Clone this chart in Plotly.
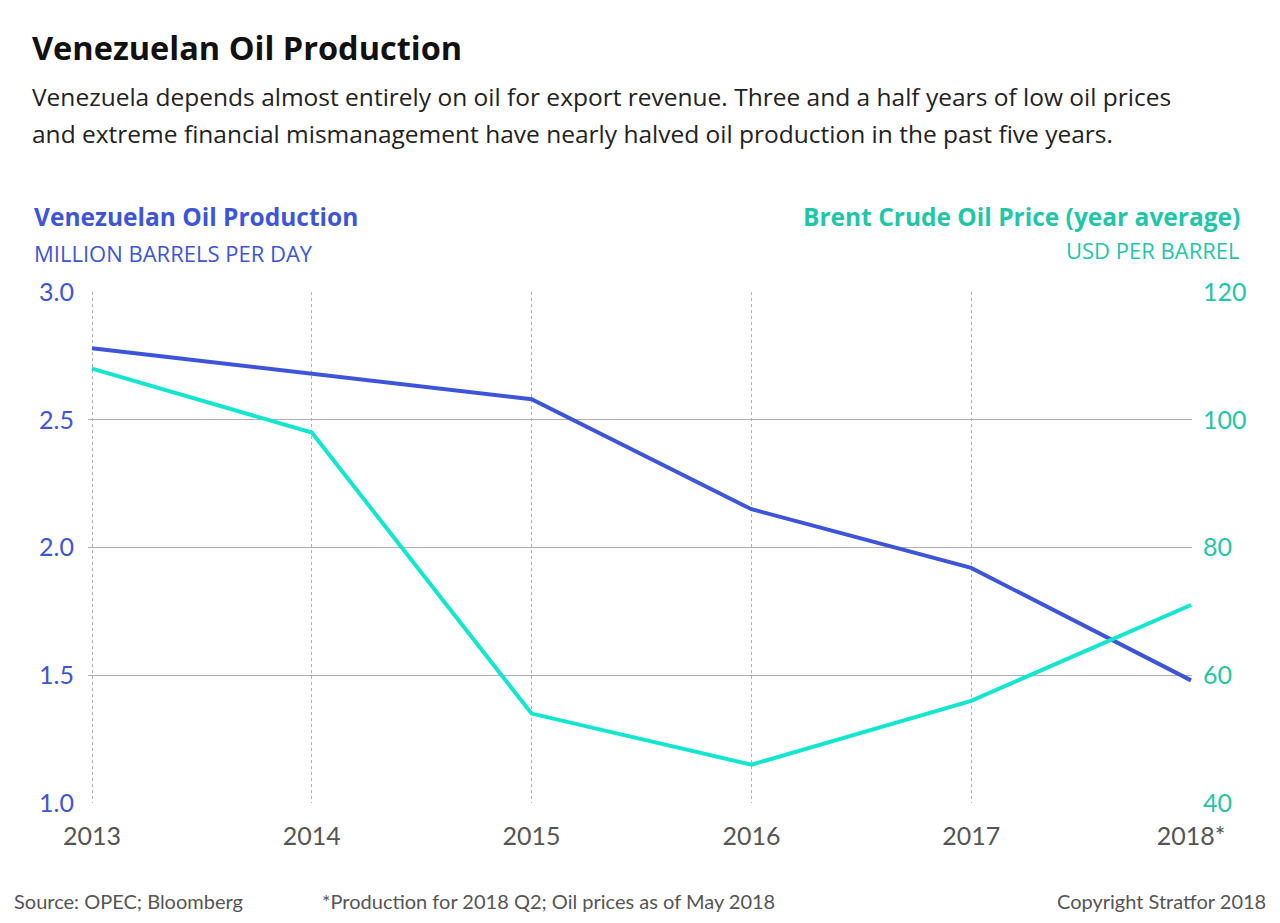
import plotly.graph_objects as go

years = [2013, 2014, 2015, 2016, 2017, 2018]
year_labels = ["2013", "2014", "2015", "2016", "2017", "2018*"]
production = [2.78, 2.68, 2.58, 2.15, 1.92, 1.48]
brent_price = [108, 98, 54, 46, 56, 71]
left_ticks = [1.0, 1.5, 2.0, 2.5, 3.0]
left_tick_text = ["1.0", "1.5", "2.0", "2.5", "3.0"]
right_ticks = [40, 60, 80, 100, 120]

BLUE = "#3d55d8"
TEAL_LINE = "#12e6cf"
TEAL_TEXT = "#1fc6a8"
FONT = "Open Sans"
TICKFONT = "Lato"

L, R, T, B = 88, 1192, 292, 803
W, H = 1280, 923

def px(x):
    return (x - L) / (R - L)

def py(y):
    return (B - y) / (B - T)

fig = go.Figure()
fig.add_trace(go.Scatter(x=years, y=production, mode="lines",
                         line=dict(color=BLUE, width=4), yaxis="y", showlegend=False,
                         hoverinfo="skip"))
fig.add_trace(go.Scatter(x=years, y=brent_price, mode="lines",
                         line=dict(color=TEAL_LINE, width=4), yaxis="y2", showlegend=False,
                         hoverinfo="skip"))

step = (1191 - 92) / 5
x0 = 2013 - (92 - L) / step
x1 = 2018 + (R - 1191) / step

fig.update_layout(
    width=W, height=H,
    margin=dict(l=L, r=W - R, t=T, b=H - B),
    paper_bgcolor="white", plot_bgcolor="white",
    font=dict(family=FONT),
    xaxis=dict(range=[x0, x1], tickvals=years, ticktext=year_labels,
               showgrid=True, gridcolor="#b0b0b0", griddash="dot", gridwidth=1,
               zeroline=False, showline=False, ticks="",
               tickfont=dict(size=25, color="#555555", family=TICKFONT),
               ticklabelstandoff=16),
    yaxis=dict(range=[1.0, 3.0], tickvals=left_ticks, ticktext=left_tick_text,
               showgrid=True, gridcolor="#b0b0b0", gridwidth=1, zeroline=False,
               showline=False, ticks="",
               tickfont=dict(size=25, color=BLUE, family=TICKFONT),
               ticklabelstandoff=13),
    yaxis2=dict(range=[40, 120], tickvals=right_ticks, overlaying="y", side="right",
                showgrid=False, zeroline=False, showline=False, ticks="",
                tickfont=dict(size=25, color=TEAL_TEXT, family=TICKFONT),
                ticklabelstandoff=10),
)

ann = []
def text(x, y, s, size, color, xanchor="left", bold=False, family=FONT):
    ann.append(dict(xref="paper", yref="paper", x=px(x), y=py(y), text=(f"<b>{s}</b>" if bold else s),
                    showarrow=False, xanchor=xanchor, yanchor="middle",
                    font=dict(size=size, color=color, family=family)))

text(30, 47, "Venezuelan Oil Production", 32.5, "#111111", bold=True)
text(30, 97, "Venezuela depends almost entirely on oil for export revenue. Three and a half years of low oil prices", 24.5, "#222222")
text(30, 134, "and extreme financial mismanagement have nearly halved oil production in the past five years.", 24.5, "#222222")
text(32, 216, "Venezuelan Oil Production", 24.5, BLUE, bold=True)
text(32, 253, "MILLION BARRELS PER DAY", 22, BLUE)
text(1242, 216, "Brent Crude Oil Price (year average)", 24.5, TEAL_TEXT, xanchor="right", bold=True)
text(1242, 250, "USD PER BARREL", 22, TEAL_TEXT, xanchor="right")
text(12, 901, "Source: OPEC; Bloomberg", 20, "#555555", family=TICKFONT)
text(320, 901, "*Production for 2018 Q2; Oil prices as of May 2018", 20, "#555555", family=TICKFONT)
text(1268, 901, "Copyright Stratfor 2018", 20, "#555555", xanchor="right", family=TICKFONT)
fig.update_layout(annotations=ann)

fig.write_html("out.html")
